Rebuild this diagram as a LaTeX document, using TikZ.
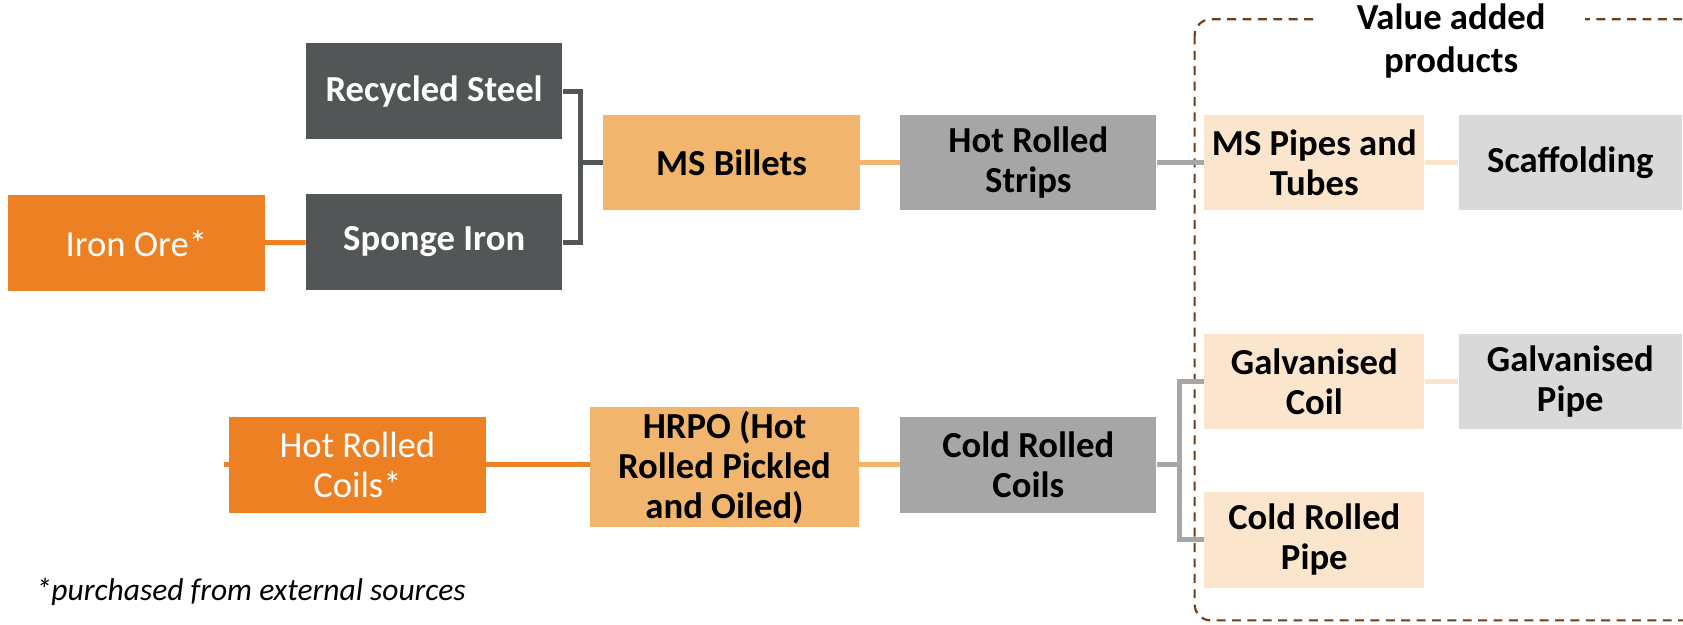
\documentclass[tikz,border=0pt]{standalone}
\usepackage{fontspec}
\setmainfont{Carlito}
\usetikzlibrary{backgrounds}

\definecolor{raworange}{RGB}{238,128,36}
\definecolor{billetorange}{RGB}{242,181,110}
\definecolor{productpeach}{RGB}{251,229,205}
\definecolor{steelgrey}{RGB}{83,86,87}
\definecolor{millgrey}{RGB}{166,166,166}
\definecolor{palegrey}{RGB}{217,217,217}
\definecolor{framebrown}{RGB}{112,62,22}

\tikzset{
    % Common box: flat fill, no border, bold centred text
    box/.style={rectangle, inner sep=2pt, align=center, minimum height=53.4pt,
        font=\fontsize{20.5}{22.4}\selectfont\bfseries},
    % Bought-in inputs - orange, white regular text
    input box/.style={box, fill=raworange, text=white, minimum width=143.4pt,
        font=\fontsize{20.5}{22.4}\selectfont},
    % Primary steel - dark grey
    steel box/.style={box, fill=steelgrey, text=white, minimum width=143.4pt},
    % Intermediate products - light orange
    billet box/.style={box, fill=billetorange, minimum width=143.4pt},
    % Rolling mill output - mid grey
    mill box/.style={box, fill=millgrey, minimum width=143pt},
    % Value added products - peach and pale grey
    product box/.style={box, fill=productpeach, minimum width=123pt},
    finish box/.style={box, fill=palegrey, minimum width=124.8pt},
    % Connectors
    link/.style={line width=2.8pt},
    % Dashed frame round the value added group
    frame/.style={draw=framebrown, line width=1.2pt, dash pattern=on 5pt off 3.6pt,
        rounded corners=9pt}
}

\begin{document}
\begin{tikzpicture}[x=0.6pt, y=-0.6pt]
    \useasboundingbox (0,0) rectangle (1568,582);

    % --- Upper route: ore and scrap to pipes ---
    \node[input box] (ore) at (127,226.5) {Iron Ore*};
    \node[steel box] (recycled) at (404.5,85) {Recycled Steel};
    \node[steel box] (sponge) at (404.5,225.5) {Sponge Iron};
    \node[billet box] (billets) at (681.5,151.5) {MS Billets};
    \node[mill box] (hrstrips) at (958,151.5) {Hot Rolled\\Strips};
    \node[product box] (pipes) at (1224.5,151.5) {MS Pipes and\\Tubes};
    \node[finish box] (scaffold) at (1463,151.5) {Scaffolding};

    % --- Lower route: bought coils to cold rolled goods ---
    \node[input box] (hrcoils) at (333,433) {Hot Rolled\\Coils*};
    \node[billet box, minimum width=150pt, minimum height=65.4pt] (hrpo) at (675,435.5)
        {HRPO (Hot\\Rolled Pickled\\and Oiled)};
    \node[mill box] (crcoils) at (958,433) {Cold Rolled\\Coils};
    \node[product box] (galvcoil) at (1224.5,355.5) {Galvanised\\Coil};
    \node[finish box] (galvpipe) at (1463,355.5) {Galvanised\\Pipe};
    \node[product box] (crpipe) at (1224.5,503) {Cold Rolled\\Pipe};

    % --- Branch points ---
    \coordinate (j1) at (541,151.5);
    \coordinate (j2) at (1099,433);
    \coordinate (stub) at (209,433);

    % --- Frame and connectors behind the boxes ---
    \begin{scope}[on background layer]
        \draw[frame] (1113,18) rectangle (1600,578);
        \draw[link, raworange] (ore) -- (sponge);
        \draw[link, steelgrey] (recycled.east) -| (j1) |- (sponge.east);
        \draw[link, steelgrey] (j1) -- (billets.west);
        \draw[link, billetorange] (billets) -- (hrstrips);
        \draw[link, millgrey] (hrstrips) -- (pipes);
        \draw[link, productpeach] (pipes) -- (scaffold);
        \draw[link, raworange] (stub) -- (hrpo.west |- stub);
        \draw[link, billetorange] (hrpo.east |- crcoils) -- (crcoils);
        \draw[link, millgrey] (crcoils.east) -- (j2);
        \draw[link, millgrey] (galvcoil.west) -| (j2) |- (crpipe.west);
        \draw[link, productpeach] (galvcoil) -- (galvpipe);
    \end{scope}

    % --- Group title, masks the top of the frame ---
    \node[fill=white, align=center, minimum width=150pt, inner sep=1pt,
        font=\fontsize{20.5}{24}\selectfont\bfseries] (title) at (1352,38)
        {Value added\\products};

    % --- Footnote ---
    \node[anchor=west, inner sep=0pt, font=\fontsize{17.6}{20}\selectfont\itshape] (note)
        at (33,551) {*purchased from external sources};
\end{tikzpicture}
\end{document}
